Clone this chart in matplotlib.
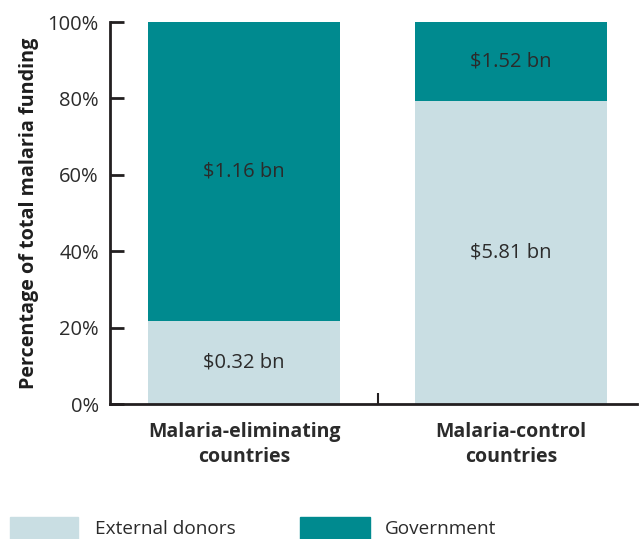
import matplotlib.pyplot as plt
from matplotlib.patches import Rectangle
from matplotlib.ticker import FuncFormatter

plt.rcParams['font.family'] = ['Open Sans', 'DejaVu Sans']

# data
categories = ['Malaria-eliminating\ncountries', 'Malaria-control\ncountries']
external_bn = [0.32, 5.81]
government_bn = [1.16, 1.52]
series_names = ['External donors', 'Government']

light = '#c9dee3'
teal = '#008a8f'
textc = '#2b2b2b'

total = [e + g for e, g in zip(external_bn, government_bn)]
ext_pct = [100 * e / t for e, t in zip(external_bn, total)]
gov_pct = [100 * g / t for g, t in zip(government_bn, total)]

fig = plt.figure(figsize=(6.39, 5.39), dpi=100)
ax = fig.add_axes([110 / 639, 135 / 539, 527 / 639, 382 / 539])

x = list(range(len(categories)))
width = 0.72
ax.bar(x, ext_pct, width, color=light, zorder=1)
ax.bar(x, gov_pct, width, bottom=ext_pct, color=teal, zorder=1)

# value labels in the middle of each segment
for i in x:
    ax.text(i, ext_pct[i] / 2, f'${external_bn[i]:.2f} bn', ha='center', va='center',
            fontsize=14.5, color=textc)
    ax.text(i, ext_pct[i] + gov_pct[i] / 2, f'${government_bn[i]:.2f} bn', ha='center',
            va='center', fontsize=14.5, color=textc)

ax.set_xlim(-0.502, 1.472)
ax.set_ylim(0, 100)
ax.set_yticks([0, 20, 40, 60, 80, 100])
ax.yaxis.set_major_formatter(FuncFormatter(lambda v, p: f'{v:.0f}%'))
ax.tick_params(axis='y', direction='in', length=10, width=2, labelsize=14.5,
               labelcolor=textc, color='#231f20', pad=8)

ax.set_xticks([0.5])
ax.set_xticklabels([''])
ax.tick_params(axis='x', direction='in', length=8, width=1.5, color='#231f20')
for i, c in zip(x, categories):
    ax.text(i, -4.6, c, ha='center', va='top', fontsize=14, fontweight='bold',
            color=textc, linespacing=1.38, clip_on=False)

for s in ['top', 'right']:
    ax.spines[s].set_visible(False)
for s in ['left', 'bottom']:
    ax.spines[s].set_linewidth(2)
    ax.spines[s].set_color('#231f20')

ax.set_ylabel('Percentage of total malaria funding', fontsize=14.2, fontweight='bold',
              color='#1e1e1e', labelpad=6)

# legend along the bottom edge
fig.patches.append(Rectangle((10 / 639, 0), 68 / 639, 22 / 539, color=light,
                             transform=fig.transFigure, figure=fig))
fig.text(95 / 639, 10 / 539, series_names[0], fontsize=13.7, color=textc, va='center')
fig.patches.append(Rectangle((300 / 639, 0), 70 / 639, 22 / 539, color=teal,
                             transform=fig.transFigure, figure=fig))
fig.text(385 / 639, 10 / 539, series_names[1], fontsize=13.7, color=textc, va='center')

fig.savefig('out.png', dpi=100)
